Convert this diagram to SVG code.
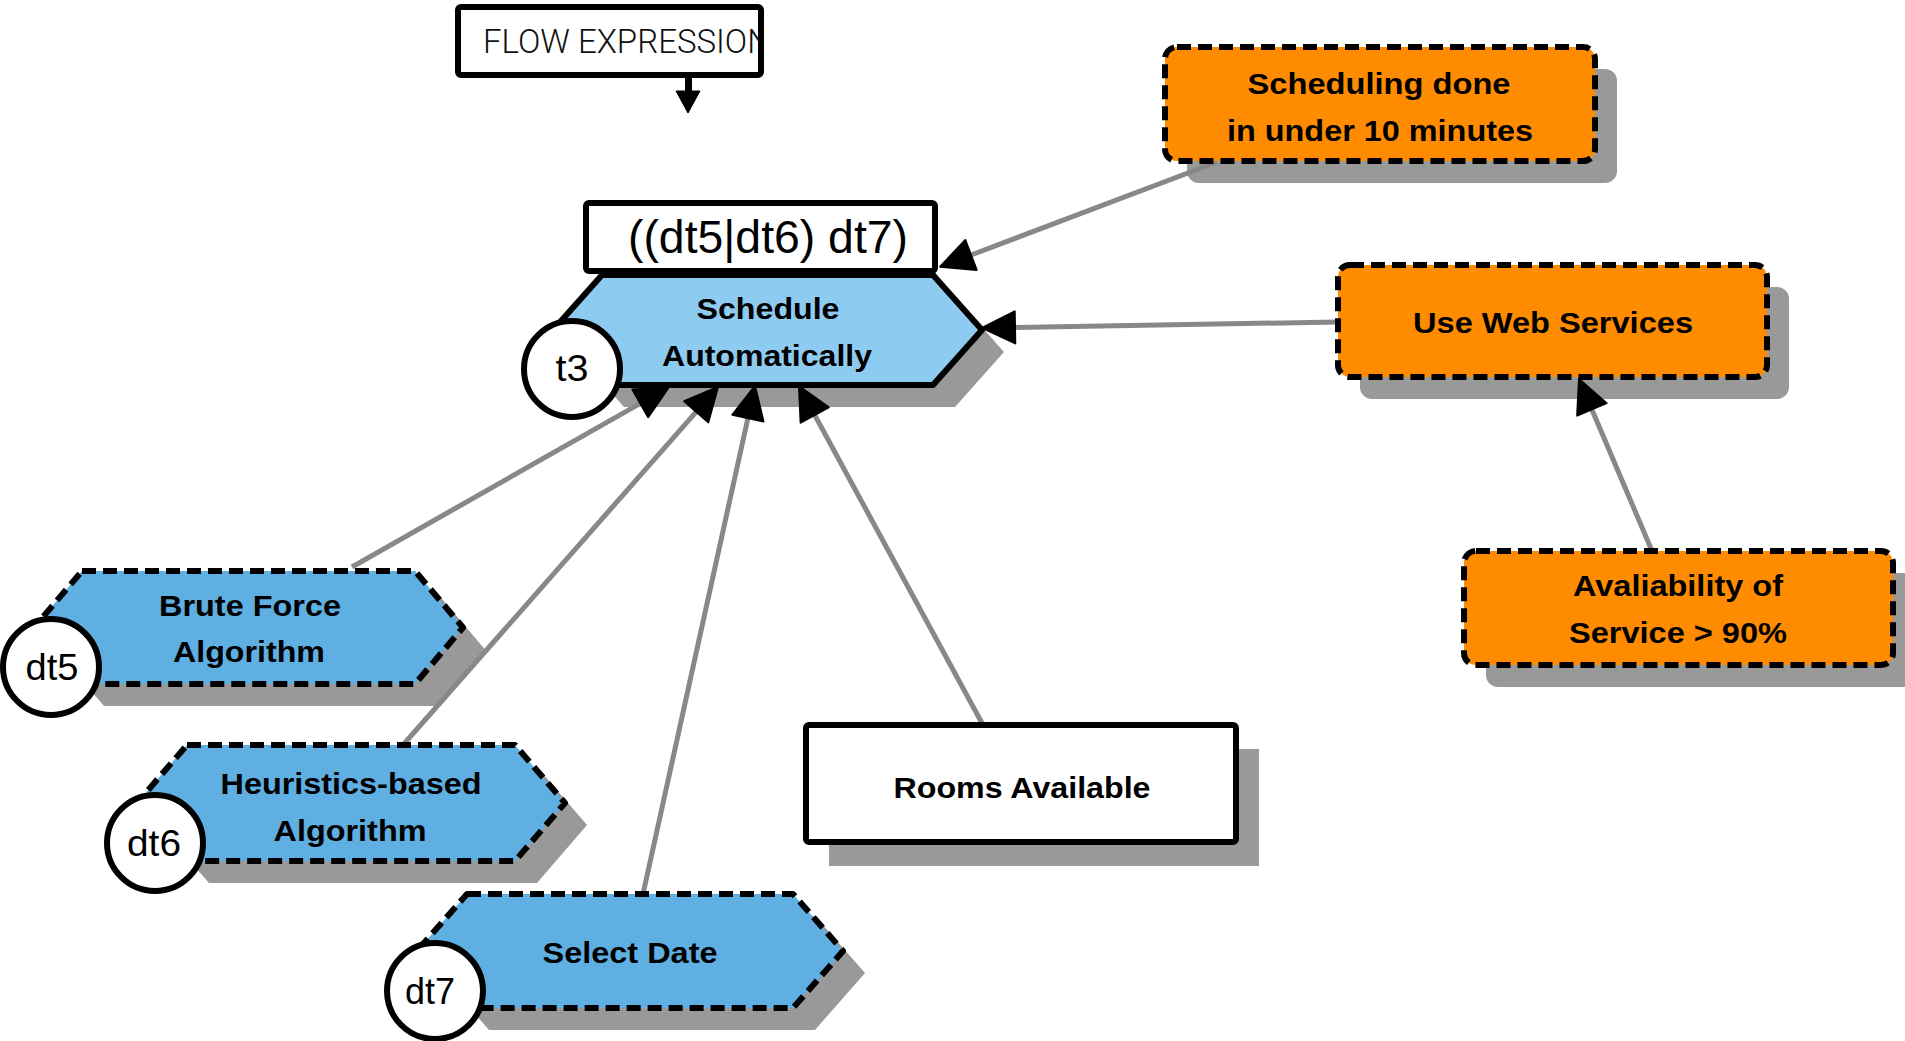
<svg xmlns="http://www.w3.org/2000/svg" width="1905" height="1041" viewBox="0 0 1905 1041">
  <style>
    .shadow { fill: #999999; stroke: none; }
    .task { fill: #8ECBF0; stroke: #000; stroke-width: 6; stroke-linejoin: round; }
    .subtask { fill: #5FAFE2; stroke: #000; stroke-width: 6; stroke-dasharray: 14 7; stroke-linejoin: round; }
    .goal { fill: #FF8C00; stroke: #000; stroke-width: 6; stroke-dasharray: 14 7; }
    .box { fill: #fff; stroke: #000; stroke-width: 6; stroke-linejoin: round; }
    .badge { fill: #fff; stroke: #000; stroke-width: 6; }
    .link { stroke: #888888; stroke-width: 5; fill: none; marker-end: url(#arrow); }
    .lbl { font-family: "Liberation Sans", Arial, sans-serif; font-weight: bold; font-size: 30px; fill: #000; text-anchor: middle; }
    .id { font-family: "Liberation Sans", Arial, sans-serif; font-size: 36px; fill: #000; text-anchor: middle; }
    .expr { font-family: "Liberation Sans", Arial, sans-serif; font-size: 46px; fill: #000; text-anchor: middle; }
    .flow { font-family: Roboto, "Liberation Sans", sans-serif; font-weight: 300; font-size: 33px; fill: #111; }
  </style>
  <defs>
    <marker id="arrow" markerUnits="userSpaceOnUse" markerWidth="40" markerHeight="40" viewBox="-2 -20 40 40" refX="0" refY="0" orient="auto" overflow="visible">
      <path d="M0,-16 L33,0 L0,16 Z" fill="#000" stroke="#000" stroke-width="2" stroke-linejoin="round"/>
    </marker>
    <clipPath id="flow-clip">
      <rect x="460" y="9" width="299" height="64"/>
    </clipPath>
  </defs>

  <rect width="1905" height="1041" fill="#fff"/>

  <!-- drop shadows, kept beneath the connectors -->
  <g id="shadows">
    <path class="shadow" transform="translate(22,22)" d="M602,275 L933,275 L982,330 L933,385 L602,385 L553,330 Z"/>
    <path class="shadow" transform="translate(22,22)" d="M82,571 L415,571 L463,627.5 L415,684 L82,684 L34,627.5 Z"/>
    <path class="shadow" transform="translate(22,22)" d="M187,745 L515,745 L565,803 L515,861 L187,861 L137,803 Z"/>
    <path class="shadow" transform="translate(22,22)" d="M467,894 L793,894 L843,951 L793,1008 L467,1008 L417,951 Z"/>
    <rect class="shadow" x="829" y="749" width="430" height="117"/>
    <rect class="shadow" x="1187" y="69" width="430" height="114" rx="12"/>
    <rect class="shadow" x="1360" y="287" width="429" height="112" rx="12"/>
    <rect class="shadow" x="1486" y="573" width="429" height="114" rx="12"/>
  </g>

  <!-- connectors -->
  <g id="connectors">
    <line class="link" x1="1217" y1="162" x2="971" y2="255"/>
    <line class="link" x1="1338" y1="322" x2="1015" y2="327.4"/>
    <line class="link" x1="352" y1="567" x2="640.3" y2="403.3"/>
    <line class="link" x1="403" y1="745" x2="696.2" y2="411.8"/>
    <line class="link" x1="643" y1="894" x2="747.9" y2="418.2"/>
    <line class="link" x1="983" y1="725" x2="814.7" y2="415"/>
    <line class="link" x1="1652" y1="551" x2="1591.9" y2="409.4"/>
  </g>

  <!-- flow expression caption -->
  <g id="flow-expression">
    <rect class="box" x="458" y="7" width="303" height="68" rx="3"/>
    <text class="flow" x="483" y="53" clip-path="url(#flow-clip)">FLOW EXPRESSION</text>
    <rect x="685" y="77" width="7" height="15" fill="#000"/>
    <path d="M676,91 L700,91 L688,113 Z" fill="#000" stroke="#000" stroke-width="1" stroke-linejoin="round"/>
  </g>

  <!-- task t3 -->
  <g id="t3">
    <rect class="box" x="586" y="203" width="349" height="68" rx="3"/>
    <text class="expr" x="768" y="253" textLength="280" lengthAdjust="spacingAndGlyphs">((dt5|dt6) dt7)</text>
    <path class="task" d="M602,275 L933,275 L982,330 L933,385 L602,385 L553,330 Z"/>
    <text class="lbl" x="768" y="319" textLength="143" lengthAdjust="spacingAndGlyphs">Schedule</text>
    <text class="lbl" x="767" y="366" textLength="210" lengthAdjust="spacingAndGlyphs">Automatically</text>
    <circle class="badge" cx="572" cy="369" r="48"/>
    <text class="id" x="572" y="381" textLength="33" lengthAdjust="spacingAndGlyphs">t3</text>
  </g>

  <!-- subtask dt5 -->
  <g id="dt5">
    <path class="subtask" d="M82,571 L415,571 L463,627.5 L415,684 L82,684 L34,627.5 Z"/>
    <text class="lbl" x="250" y="616" textLength="182" lengthAdjust="spacingAndGlyphs">Brute Force</text>
    <text class="lbl" x="249" y="662" textLength="152" lengthAdjust="spacingAndGlyphs">Algorithm</text>
    <circle class="badge" cx="51" cy="667" r="48"/>
    <text class="id" x="52" y="680" textLength="53" lengthAdjust="spacingAndGlyphs">dt5</text>
  </g>

  <!-- subtask dt6 -->
  <g id="dt6">
    <path class="subtask" d="M187,745 L515,745 L565,803 L515,861 L187,861 L137,803 Z"/>
    <text class="lbl" x="351" y="794" textLength="261" lengthAdjust="spacingAndGlyphs">Heuristics-based</text>
    <text class="lbl" x="350" y="841" textLength="153" lengthAdjust="spacingAndGlyphs">Algorithm</text>
    <circle class="badge" cx="155" cy="843" r="48"/>
    <text class="id" x="154" y="856" textLength="54" lengthAdjust="spacingAndGlyphs">dt6</text>
  </g>

  <!-- subtask dt7 -->
  <g id="dt7">
    <path class="subtask" d="M467,894 L793,894 L843,951 L793,1008 L467,1008 L417,951 Z"/>
    <text class="lbl" x="630" y="963" textLength="175" lengthAdjust="spacingAndGlyphs">Select Date</text>
    <circle class="badge" cx="435" cy="991" r="48"/>
    <text class="id" x="430" y="1004" textLength="50" lengthAdjust="spacingAndGlyphs">dt7</text>
  </g>

  <!-- resource -->
  <g id="rooms-available">
    <rect class="box" x="806" y="725" width="430" height="117" rx="3"/>
    <text class="lbl" x="1022" y="798" textLength="257" lengthAdjust="spacingAndGlyphs">Rooms Available</text>
  </g>

  <!-- soft goals -->
  <g id="scheduling-time">
    <rect class="goal" x="1165" y="47" width="430" height="114" rx="12"/>
    <text class="lbl" x="1379" y="94" textLength="263" lengthAdjust="spacingAndGlyphs">Scheduling done</text>
    <text class="lbl" x="1380" y="141" textLength="306" lengthAdjust="spacingAndGlyphs">in under 10 minutes</text>
  </g>

  <g id="web-services">
    <rect class="goal" x="1338" y="265" width="429" height="112" rx="12"/>
    <text class="lbl" x="1553" y="333" textLength="280" lengthAdjust="spacingAndGlyphs">Use Web Services</text>
  </g>

  <g id="service-availability">
    <rect class="goal" x="1464" y="551" width="429" height="114" rx="12"/>
    <text class="lbl" x="1678" y="596" textLength="210" lengthAdjust="spacingAndGlyphs">Avaliability of</text>
    <text class="lbl" x="1678" y="643" textLength="218" lengthAdjust="spacingAndGlyphs">Service &gt; 90%</text>
  </g>
</svg>
